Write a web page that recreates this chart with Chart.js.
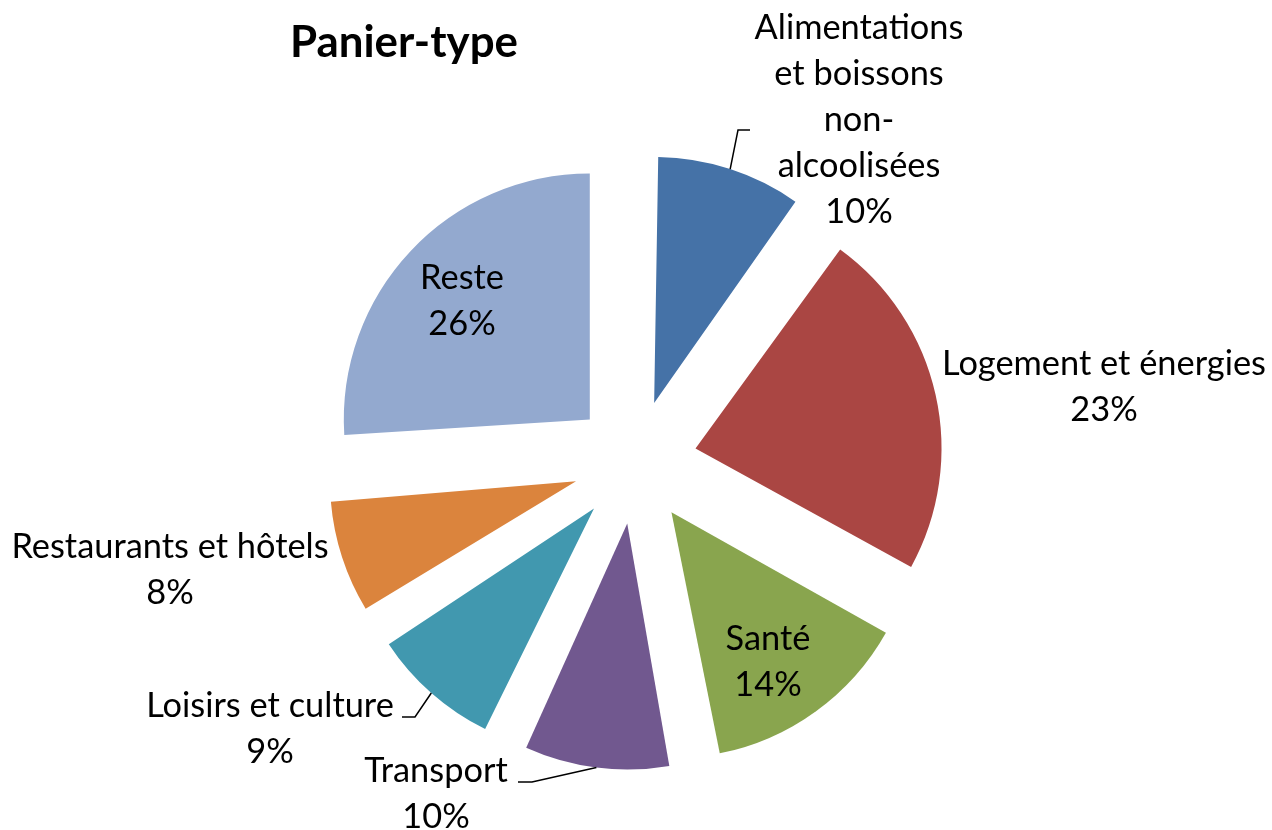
<!DOCTYPE html>
<html><head><meta charset="utf-8">
<script src="https://cdn.jsdelivr.net/npm/chart.js@4.4.1/dist/chart.umd.min.js"></script>
<style>html,body{margin:0;padding:0;background:#fff}canvas{display:block}</style>
</head><body>
<canvas id="c" width="1272" height="830"></canvas>
<script>
// ---- data ----
const title = 'Panier-type';
const categories = ['Alimentations et boissons non-alcoolisées', 'Logement et énergies', 'Santé', 'Transport', 'Loisirs et culture', 'Restaurants et hôtels', 'Reste'];
const labelLines = [['Alimentations', 'et boissons', 'non-', 'alcoolisées'], ['Logement et énergies'], ['Santé'], ['Transport'], ['Loisirs et culture'], ['Restaurants et hôtels'], ['Reste']];
const shares = [10, 23, 14, 10, 9, 8, 26];
const colors = ['#4572A7', '#AA4643', '#89A54E', '#71588F', '#4198AF', '#DB843D', '#93A9CF'];

// ---- layout (not data) ----
const FONT = 'Lato, "Open Sans", sans-serif';
const OFFSET = 248; // Chart.js translates by offset/4 -> 62px explosion
const RADIUS = 246;
const labelPos = [{x:859,y:39},{x:1104,y:375},{x:768,y:650},{x:436,y:782},{x:270,y:717},{x:170,y:558},{x:462,y:289}];
const LINE_H = 46;
// leader lines: elbow and end points (start is computed on the arc edge)
const leaders = {0: [[738,130],[750,130]], 3: [[532,782],[518,782]], 4: [[415,717],[402,717]]};

const equalRadius = {
  id: 'equalRadius',
  beforeDatasetsDraw(chart) {
    const meta = chart.getDatasetMeta(0);
    const R = meta.controller.outerRadius;
    meta.data.forEach(arc => {
      const fix = 1 - Math.sin(Math.min(Math.PI, arc.circumference));
      arc.outerRadius = R - (OFFSET / 4) * fix;
    });
  }
};

function fitSize(ctx, weight, text, base, target) {
  ctx.font = `${weight} ${base}px ${FONT}`;
  const w = ctx.measureText(text).width;
  return base * target / w;
}

const labelsPlugin = {
  id: 'labels',
  afterDatasetsDraw(chart) {
    const ctx = chart.ctx;
    const meta = chart.getDatasetMeta(0);
    const R = meta.controller.outerRadius;
    ctx.save();
    // title
    const ts = fitSize(ctx, 'bold', title, 37, 228);
    ctx.font = `bold ${ts}px ${FONT}`;
    ctx.fillStyle = '#000';
    ctx.textAlign = 'left';
    ctx.textBaseline = 'alphabetic';
    ctx.fillText(title, 290, 57);
    // labels
    const ls = fitSize(ctx, 'normal', 'Logement et énergies', 31, 324);
    ctx.font = `normal ${ls}px ${FONT}`;
    ctx.textAlign = 'center';
    meta.data.forEach((arc, i) => {
      const lines = labelLines[i].concat([shares[i] + '%']);
      const p = labelPos[i];
      lines.forEach((t, k) => ctx.fillText(t, p.x, p.y + k * LINE_H));
      if (leaders[i]) {
        const mid = (arc.startAngle + arc.endAngle) / 2;
        const d = OFFSET / 4 + R;
        const sx = arc.x + Math.cos(mid) * d, sy = arc.y + Math.sin(mid) * d;
        ctx.beginPath();
        ctx.moveTo(sx, sy);
        leaders[i].forEach(q => ctx.lineTo(q[0], q[1]));
        ctx.strokeStyle = '#000';
        ctx.lineWidth = 1.5;
        ctx.stroke();
      }
    });
    ctx.restore();
  }
};

new Chart(document.getElementById('c'), {
  type: 'pie',
  data: {
    labels: categories,
    datasets: [{ data: shares, backgroundColor: colors, borderWidth: 0, offset: OFFSET, radius: RADIUS, clip: false }]
  },
  options: {
    responsive: false,
    animation: false,
    events: [],
    layout: { padding: { left: 0, right: 2, top: 94, bottom: 0 } },
    plugins: { legend: { display: false }, tooltip: { enabled: false }, title: { display: false } }
  },
  plugins: [equalRadius, labelsPlugin]
});
</script>
</body></html>
